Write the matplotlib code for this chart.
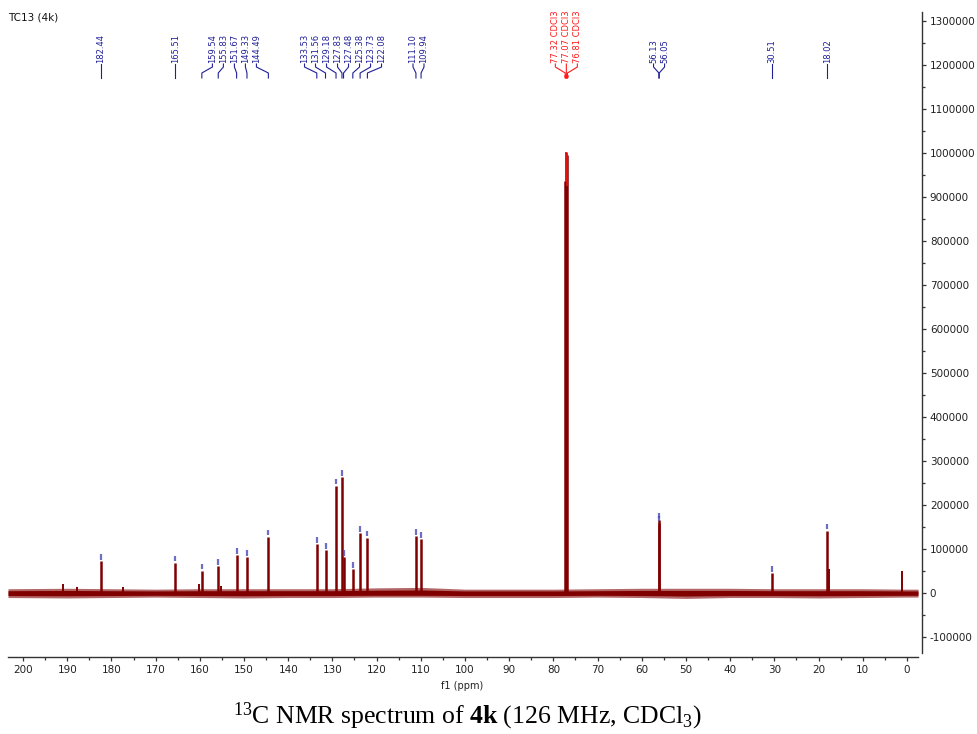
import numpy as np
import matplotlib
matplotlib.use("Agg")
import matplotlib.pyplot as plt
from matplotlib.ticker import MultipleLocator
from matplotlib.transforms import blended_transform_factory

plt.rcParams['font.family'] = ['DejaVu Sans']
plt.rcParams['mathtext.fontset'] = 'custom'
plt.rcParams['mathtext.rm'] = 'Liberation Serif'
plt.rcParams['mathtext.it'] = 'Liberation Serif:italic'
plt.rcParams['mathtext.bf'] = 'Liberation Serif:bold'
plt.rcParams['mathtext.default'] = 'rm'

# labelled peaks (ppm, intensity)
peak_ppm = [182.44, 165.51, 159.54, 155.83, 151.67, 149.33, 144.49,
            133.53, 131.56, 129.18, 127.83, 127.48, 125.38, 123.73, 122.08,
            111.10, 109.94, 56.13, 56.05, 30.51, 18.02]
peak_height = [73000, 69000, 51000, 61000, 86000, 81000, 128000,
               111000, 98000, 244000, 264000, 82000, 55000, 136000, 126000,
               130000, 122000, 167000, 160000, 45000, 142000]

# solvent triplet
solvent_ppm = [77.32, 77.07, 76.81]
solvent_height = [935000, 1003000, 995000]

# small unlabelled lines
minor_ppm = [190.9, 187.8, 177.4, 160.1, 155.1, 17.7, 1.1]
minor_height = [20000, 14000, 14000, 20000, 16000, 55000, 50000]

# baseline noise envelope
noise_ppm = [203.4, 190, 180, 170, 160, 150, 140, 130, 120, 110, 100, 90,
             80, 70, 60, 50, 40, 30, 20, 10, 0, -2.5]
noise_hi = [10000, 11000, 10000, 9000, 10000, 10000, 10000, 10000, 12000, 13000, 9000, 9000,
            9000, 10000, 11000, 11000, 11000, 10000, 10000, 10000, 9000, 9000]
noise_lo = [-10000, -11000, -10000, -9000, -10000, -11000, -10000, -10000, -9000, -9000, -10000, -10000,
            -10000, -9000, -10000, -12000, -10000, -10000, -11000, -10000, -9000, -9000]

W, H = 977, 734
fig = plt.figure(figsize=(W / 100, H / 100), dpi=100)
ax = fig.add_axes([8 / W, 1 - 653 / H, 910 / W, 641 / H])

dark = '#800000'
ax.fill_between(noise_ppm, noise_lo, noise_hi, color=dark, alpha=0.6, lw=0)
ax.fill_between(noise_ppm, [v * 0.55 for v in noise_lo], [v * 0.55 for v in noise_hi],
                color=dark, alpha=1.0, lw=0)
ax.vlines(peak_ppm, 0, peak_height, color=dark, lw=1.8)
ax.vlines(minor_ppm, 0, minor_height, color=dark, lw=1.4)
ax.vlines(solvent_ppm, 0, solvent_height, color=dark, lw=1.8)
ax.vlines(solvent_ppm[1:], 0.93 * np.array(solvent_height[1:]), solvent_height[1:], color='#ee1111', lw=1.2)

# peak-pick markers above the tops
ax.vlines(peak_ppm, np.array(peak_height) + 3000, np.array(peak_height) + 16000,
          color='#4a4ab8', lw=1.6, alpha=0.8)

for s in ['left', 'top']:
    ax.spines[s].set_visible(False)
for s in ['bottom', 'right']:
    ax.spines[s].set_position(('outward', 3))
    ax.spines[s].set_color('#333333')
    ax.spines[s].set_linewidth(1.0)
ax.yaxis.tick_right()
ax.xaxis.set_minor_locator(MultipleLocator(5))
ax.yaxis.set_minor_locator(MultipleLocator(50000))
ax.set_xticks(np.arange(0, 201, 10))
ax.set_xlim(203.4, -2.5)
ax.set_yticks(np.arange(-100000, 1300001, 100000))
ax.set_ylim(-136000, 1320000)
ax.tick_params(axis='both', which='major', length=3, width=0.9, color='#333333',
               labelsize=7.5, labelcolor='#222222', pad=2.5)
ax.tick_params(axis='both', which='minor', length=2, width=0.9, color='#333333')
ax.yaxis.set_major_formatter(matplotlib.ticker.FuncFormatter(lambda v, p: '%d' % v))

fig.text(462 / W, 1 - 686 / H, 'f1 (ppm)', ha='center', va='center', fontsize=7, color='#222222')
fig.text(8 / W, 1 - 18 / H, 'TC13 (4k)', ha='left', va='center', fontsize=7.5, color='#111111')
fig.text(467 / W, 1 - 716 / H, r'$^{13}$C NMR spectrum of $\mathbf{4k}$ (126 MHz, CDCl$_3$)',
         ha='center', va='center', fontsize=18.5, color='black', family='Liberation Serif')

# multiplet-style labels along the top
tr = blended_transform_factory(ax.transData, fig.transFigure)
pitch = 2.49     # ppm between neighbouring labels
join = 5.4       # peaks closer than this share a label group


def spread(ppms):
    ppms = sorted(ppms, reverse=True)
    groups = [[ppms[0]]]
    for p in ppms[1:]:
        if groups[-1][-1] - p < join:
            groups[-1].append(p)
        else:
            groups.append([p])
    out = []
    for g in groups:
        c = np.mean(g)
        n = len(g)
        for i, p in enumerate(g):
            out.append((p, c + pitch * ((n - 1) / 2 - i)))
    return out


def fy(px):
    return 1 - px / H


def draw_labels(ppms, texts, color, dot=None):
    for (p, lx), t in zip(spread(ppms), texts):
        ax.plot([lx, lx, p, p], [fy(64), fy(67), fy(73), fy(78)], transform=tr,
                color=color, lw=0.8, clip_on=False)
        ax.text(lx, fy(63), t, transform=tr, rotation=90, ha='center', va='bottom',
                fontsize=6, color=color, clip_on=False)
    if dot is not None:
        ax.plot([dot], [fy(76)], 'o', ms=2.2, color=color, transform=tr, clip_on=False)


draw_labels(peak_ppm, ['%.2f' % p for p in sorted(peak_ppm, reverse=True)], '#1f1f99')
draw_labels(solvent_ppm, ['%.2f CDCl3' % p for p in sorted(solvent_ppm, reverse=True)],
            '#ff1a1a', dot=solvent_ppm[1])

fig.savefig('out.png', dpi=100)
